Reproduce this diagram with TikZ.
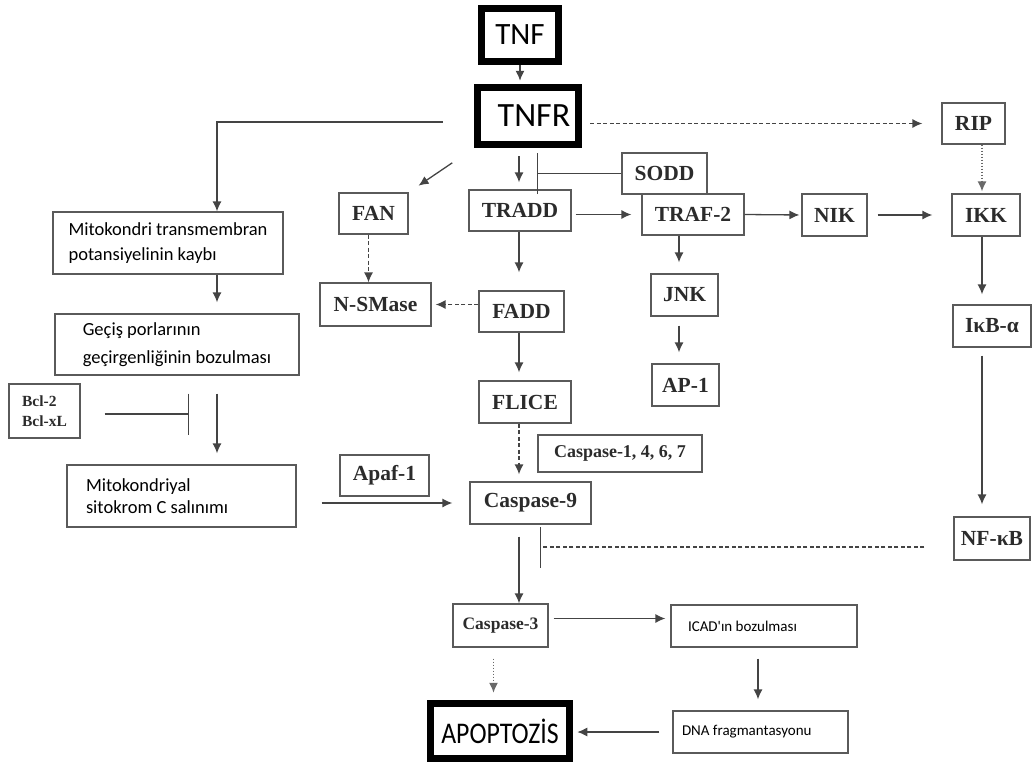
\documentclass[tikz,border=0pt]{standalone}
\usepackage{fontspec}
\setmainfont{Liberation Serif}
\newfontfamily\calfont{Carlito}
\usepackage{tikz}
\usetikzlibrary{arrows.meta}
\definecolor{wire}{HTML}{444444}
\definecolor{edge}{HTML}{5A5A5A}
\definecolor{ink}{HTML}{2B2B2B}
\tikzset{
    prot/.style = {draw=edge,line width=1.2pt,text=ink,inner sep=0pt,
        font=\bfseries\fontsize{21.5}{24}\selectfont},
    note/.style = {draw=edge,line width=1.2pt,text=black,inner sep=0pt,align=flush left,
        font=\calfont\fontsize{18.5}{25}\selectfont},
    key/.style = {draw=black,line width=7.5pt,text=black,inner sep=0pt},
    weak/.style = {dash pattern=on 4pt off 2.5pt},
    faint/.style = {dash pattern=on 1.5pt off 1.5pt,draw=wire!80}
}
\tikzset{
    act/.style = {-{Latex[length=10pt,width=9pt]}},
    inh/.style = {-{Bar[width=41pt]}}
}
\begin{document}
\begin{tikzpicture}[x=1pt,y=-1pt,line width=1.3pt,draw=wire]
    \useasboundingbox (0,0) rectangle (1034,763);
    % Columns of the long arrows
    \coordinate (lx) at (217,0);
    \coordinate (cx) at (519,0);
    \coordinate (sx) at (537,0);
    \coordinate (jx) at (679,0);
    \coordinate (rx) at (982,0);
    % Receptor
    \node[key,minimum width=77,minimum height=53,font=\calfont\fontsize{31}{36}\selectfont]
        (tnf) at (520,35) {TNF};
    \node[key,minimum width=101,minimum height=57,font=\calfont\fontsize{34}{38}\selectfont]
        (tnfr) at (528,116) {\hspace*{12pt}TNFR};
    % Signalling proteins
    \node[prot,minimum width=63,minimum height=41] (rip) at (973.5,123.5) {RIP};
    \node[prot,minimum width=85,minimum height=41] (sodd) at (664.5,173.5) {SODD};
    \node[prot,minimum width=102,minimum height=41] (tradd) at (520,210.5) {TRADD};
    \node[prot,minimum width=102,minimum height=41] (traf2) at (693,214.5) {TRAF-2};
    \node[prot,minimum width=65,minimum height=42] (nik) at (834.5,215) {NIK};
    \node[prot,minimum width=68,minimum height=42] (ikk) at (986,215) {IKK};
    \node[prot,minimum width=78,minimum height=42] (ikba) at (992,326) {IκB-α};
    \node[prot,minimum width=76,minimum height=43] (nfkb) at (992,538.5) {NF-κB};
    \node[prot,minimum width=69,minimum height=41] (fan) at (373.5,213.5) {FAN};
    \node[prot,minimum width=111,minimum height=43] (nsmase) at (375.5,304.5) {N-SMase};
    \node[prot,minimum width=85,minimum height=41] (fadd) at (521.5,311.5) {FADD};
    \node[prot,minimum width=92,minimum height=42] (flice) at (525,402) {FLICE};
    \node[prot,minimum width=67,minimum height=42] (jnk) at (684.5,295) {JNK};
    \node[prot,minimum width=67,minimum height=42] (ap1) at (685.5,385) {AP-1};
    \node[prot,minimum width=164,minimum height=37,font=\bfseries\fontsize{18}{20}\selectfont]
        (casp147) at (620,453.5) {Caspase-1, 4, 6, 7};
    \node[prot,minimum width=121,minimum height=42] (casp9) at (530.5,503) {Caspase-9};
    \node[prot,minimum width=89,minimum height=41] (apaf) at (384.5,475.5) {Apaf-1};
    \node[prot,minimum width=95,minimum height=43,font=\bfseries\fontsize{17.5}{20}\selectfont]
        (casp3) at (500.5,625.5) {Caspase-3};
    \node[prot,minimum width=71,minimum height=54,align=left,font=\bfseries\fontsize{15.5}{20}\selectfont]
        (bcl) at (44.5,411) {Bcl-2\\Bcl-xL};
    % Mitochondrial path
    \node[note,minimum width=230,minimum height=62] (mito1) at (168,243)
        {Mitokondri transmembran\\potansiyelinin kaybı};
    \node[note,minimum width=244,minimum height=61,font=\calfont\fontsize{18.5}{28}\selectfont]
        (gecis) at (177,344.5) {Geçiş porlarının\\geçirgenliğinin bozulması};
    \node[note,inner xsep=19pt,text width=191pt,minimum height=62,font=\calfont\fontsize{18.5}{22}\selectfont]
        (mito2) at (181.5,496) {Mitokondriyal\\sitokrom C salınımı};
    % Execution
    \node[note,inner xsep=17pt,text width=152pt,minimum height=42,font=\calfont\fontsize{15}{18}\selectfont]
        (icad) at (764,626) {ICAD'ın bozulması};
    \node[note,inner xsep=9pt,text width=157pt,minimum height=42,font=\calfont\fontsize{15}{18}\selectfont]
        (dna) at (760.5,732) {DNA fragmantasyonu};
    \node[key,minimum width=139,minimum height=55,font=\calfont\fontsize{30}{34}\selectfont]
        (apop) at (500,731) {\scalebox{0.86}[1]{APOPTOZİS}};
    % Receptor outputs
    \draw[act,shorten >=3pt] (tnf.south) -- (tnf.south |- tnfr.north);
    \draw[act,shorten <=31pt] ([yshift=-6pt]tnfr.west) -| (mito1.north -| lx);
    \draw[act,shorten <=26pt,shorten >=12pt] (tnfr.south west) -- (fan.north east);
    \draw[act,shorten <=8pt,shorten >=7pt] (tnfr.south -| cx) -- (tradd.north -| cx);
    \draw[act,weak,shorten <=8pt,shorten >=19pt] (tnfr.east |- rip) -- (rip.west);
    \draw[inh] (sodd.west) -- (sodd.west -| sx);
    % NF-kB branch
    \draw[act,shorten <=4pt,shorten >=10pt] (tradd.east |- traf2.west) -- (traf2.west);
    \draw[act,shorten >=2pt] (traf2.east) -- (nik.west);
    \draw[act,shorten <=10pt,shorten >=19pt] (nik.east) -- (ikk.west);
    \draw[act,faint,shorten >=2pt] (rip.south -| rx) -- (ikk.north -| rx);
    \draw[act,shorten >=10pt] (ikk.south -| rx) -- (ikba.north -| rx);
    \draw[act,shorten <=8pt,shorten >=12pt] (ikba.south -| rx) -- (nfkb.north -| rx);
    \coordinate (nb) at (540,547);
    \draw[inh,weak,shorten <=29pt] (nfkb.west |- nb) -- (nb);
    % JNK branch
    \draw[act,shorten >=11pt] (traf2.south -| jx) -- (jnk.north -| jx);
    \draw[act,shorten <=9pt,shorten >=11pt] (jnk.south -| jx) -- (ap1.north -| jx);
    % Sphingomyelinase
    \draw[act,weak] ([xshift=-5pt]fan.south) -- ([xshift=-5pt]fan.south |- nsmase.north);
    \draw[act,weak,shorten >=4pt] (fadd.west |- nsmase) -- (nsmase.east);
    % Caspase cascade
    \draw[act,shorten >=18pt] (tradd.south -| cx) -- (fadd.north -| cx);
    \draw[act,shorten >=8pt] (fadd.south -| cx) -- (flice.north -| cx);
    \draw[act,weak,shorten >=7pt] (flice.south -| cx) -- (casp9.north -| cx);
    \draw[act,shorten <=12pt] (casp9.south -| cx) -- (casp3.north -| cx);
    % Mitochondria
    \draw[act,shorten >=11pt] (mito1.south -| lx) -- (gecis.north -| lx);
    \draw[act,shorten <=18pt,shorten >=11pt] (gecis.south -| lx) -- (mito2.north -| lx);
    \coordinate (bk) at (189,414);
    \draw[inh,shorten <=24pt] (bcl.east |- bk) -- (bk);
    \draw[act,shorten <=25pt,shorten >=17pt] (mito2.east |- casp9) -- (casp9.west);
    % Cell death
    \draw[act,shorten <=5pt,shorten >=5pt] ([yshift=7pt]casp3.east) -- ([yshift=7pt]casp3.east -| icad.west);
    \draw[act,shorten <=11pt,shorten >=11pt] ([xshift=-6pt]icad.south) -- ([xshift=-6pt]icad.south |- dna.north);
    \draw[act,shorten <=13pt,shorten >=4pt] (dna.west) -- (dna.west -| apop.east);
    \draw[act,faint,shorten <=11pt,shorten >=7pt] ([xshift=-7pt]casp3.south) -- ([xshift=-7pt]casp3.south |- apop.north);
\end{tikzpicture}
\end{document}
